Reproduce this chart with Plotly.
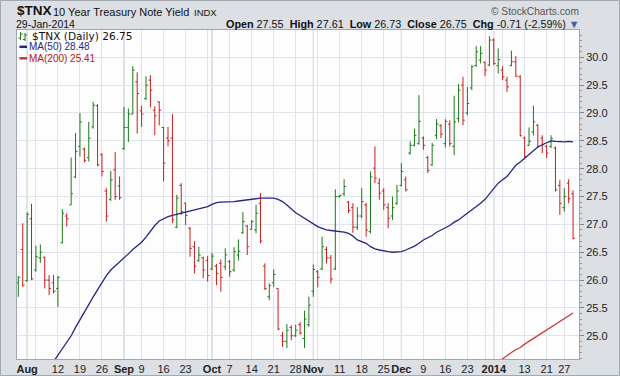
import pandas as pd
import plotly.graph_objects as go

# ---------------- data ----------------
holidays = ['2013-09-02', '2013-11-28', '2013-12-25', '2014-01-01', '2014-01-20']
dates = [d.strftime('%Y-%m-%d') for d in
         pd.bdate_range('2013-07-30', '2014-01-29', freq='C', holidays=holidays)]

opens = [25.95, 26.55, 25.99, 27.10, 26.18, 26.40, 26.41, 26.00, 25.95, 25.85,
         26.67, 27.15, 27.35, 27.85, 28.40, 28.35, 28.20, 28.75, 29.13, 28.25,
         27.60, 27.45, 27.98, 27.69, 28.36, 28.74, 28.98, 29.56, 29.04, 29.26,
         29.59, 29.05, 29.20, 28.74, 28.55, 28.55, 26.95, 27.70, 27.38, 26.93,
         26.60, 26.35, 26.40, 26.35, 26.20, 26.25, 26.30, 26.24, 26.33, 26.18,
         26.45, 26.85, 26.97, 26.91, 26.90, 27.38, 26.25, 25.70, 25.95, 25.85,
         25.00, 24.90, 25.15, 25.00, 25.20, 24.95, 25.20, 25.80, 26.15, 26.20,
         26.55, 26.40, 26.20, 27.50, 27.55, 27.40, 27.30, 26.95, 27.15, 27.35,
         26.87, 28.01, 27.74, 27.60, 27.30, 27.15, 27.38, 27.70, 27.80, 28.28,
         28.42, 28.45, 28.55, 28.20, 28.07, 28.60, 28.77, 28.45, 28.80, 28.40,
         28.90, 29.50, 29.00, 29.45, 29.85, 29.95, 29.91, 29.86, 30.31, 29.85,
         29.77, 29.59, 29.85, 29.92, 29.65, 28.55, 28.42, 28.66, 28.78, 28.55,
         28.40, 28.40, 28.37, 27.70, 27.30, 27.74, 27.55]

highs = [26.07, 27.02, 27.22, 27.37, 26.62, 26.64, 26.42, 26.09, 26.09, 26.07,
         27.27, 27.20, 28.20, 28.64, 29.00, 28.38, 28.84, 29.20, 29.16, 28.28,
         27.65, 27.96, 28.30, 27.86, 29.11, 29.08, 29.84, 29.73, 29.13, 29.66,
         29.68, 29.12, 29.21, 28.75, 28.75, 28.98, 27.53, 27.74, 27.39, 26.95,
         26.70, 26.60, 26.42, 26.43, 26.49, 26.29, 26.37, 26.57, 26.36, 26.59,
         26.73, 27.22, 26.99, 27.08, 27.35, 27.56, 26.30, 25.94, 26.19, 25.85,
         25.07, 25.21, 25.19, 25.20, 25.25, 25.45, 25.70, 26.28, 26.18, 26.78,
         26.60, 26.45, 27.63, 27.53, 27.81, 27.42, 27.38, 27.31, 27.65, 27.39,
         27.95, 28.40, 27.83, 27.65, 27.38, 27.50, 27.71, 28.10, 27.86, 28.49,
         28.72, 29.32, 28.58, 28.23, 28.46, 28.89, 28.80, 28.89, 28.87, 29.31,
         29.52, 29.65, 29.47, 29.86, 30.20, 30.20, 29.92, 30.38, 30.34, 30.16,
         29.84, 29.65, 30.12, 30.02, 29.68, 28.58, 28.74, 29.13, 28.80, 28.60,
         28.43, 28.60, 28.40, 27.80, 27.65, 27.81, 27.61]

lows = [25.70, 25.88, 25.97, 26.00, 26.15, 26.31, 25.85, 25.73, 25.76, 25.52,
        26.66, 26.96, 27.35, 27.83, 28.22, 28.11, 28.13, 28.72, 28.04, 27.86,
        27.05, 27.42, 27.44, 27.44, 28.34, 28.48, 28.98, 28.63, 28.75, 29.23,
        29.10, 28.60, 28.78, 27.77, 28.40, 27.02, 26.93, 27.17, 26.99, 26.42,
        26.12, 26.33, 26.03, 25.97, 26.18, 25.91, 25.79, 26.18, 26.06, 26.15,
        26.35, 26.83, 26.45, 26.91, 26.84, 26.66, 25.82, 25.64, 25.88, 25.10,
        24.80, 24.78, 24.92, 24.98, 25.02, 24.78, 25.16, 25.70, 25.87, 26.18,
        26.30, 25.94, 26.18, 27.48, 27.51, 27.20, 26.85, 26.90, 27.11, 26.78,
        26.84, 27.74, 27.44, 27.26, 26.93, 27.08, 27.35, 27.68, 27.59, 28.25,
        28.40, 28.43, 28.34, 27.92, 28.05, 28.53, 28.55, 28.38, 28.40, 28.24,
        28.83, 28.78, 28.96, 29.41, 29.83, 29.89, 29.66, 29.84, 29.86, 29.71,
        29.59, 29.38, 29.84, 29.65, 28.58, 28.19, 28.41, 28.60, 28.37, 28.28,
        28.19, 28.37, 27.59, 27.17, 27.23, 27.38, 26.73]

closes = [26.05, 25.91, 27.18, 26.02, 26.42, 26.50, 26.00, 25.85, 25.80, 26.05,
          27.20, 27.10, 27.55, 28.31, 28.84, 28.15, 28.55, 29.14, 28.07, 27.95,
          27.15, 27.80, 27.50, 27.48, 28.74, 28.98, 29.77, 29.35, 28.98, 29.50,
          29.41, 28.95, 29.05, 28.10, 28.50, 27.08, 27.47, 27.23, 27.16, 26.57,
          26.25, 26.45, 26.18, 26.08, 26.43, 26.12, 26.05, 26.45, 26.15, 26.51,
          26.52, 27.05, 26.60, 27.05, 27.20, 26.70, 25.85, 25.90, 26.10, 25.12,
          24.90, 25.10, 25.00, 25.10, 25.05, 25.30, 25.55, 26.19, 26.05, 26.60,
          26.40, 26.02, 27.50, 27.52, 27.68, 27.25, 26.95, 27.15, 27.41, 26.90,
          27.85, 27.83, 27.56, 27.35, 27.11, 27.30, 27.60, 27.95, 27.62, 28.42,
          28.60, 28.85, 28.42, 27.97, 28.42, 28.80, 28.62, 28.85, 28.45, 28.84,
          29.41, 28.87, 29.17, 29.83, 30.10, 30.07, 29.77, 30.31, 29.89, 29.96,
          29.65, 29.47, 29.92, 29.66, 28.59, 28.22, 28.49, 28.84, 28.40, 28.43,
          28.28, 28.54, 27.62, 27.38, 27.50, 27.46, 26.75]

ma50 = [None] * 7 + [
    24.42, 24.54, 24.66, 24.77, 24.88, 25.00, 25.15, 25.28, 25.42, 25.56,
    25.70, 25.83, 25.96, 26.08, 26.18, 26.25, 26.32, 26.40, 26.47, 26.55,
    26.62, 26.68, 26.77, 26.88, 26.98, 27.06, 27.10, 27.14, 27.16, 27.18,
    27.20, 27.22, 27.24, 27.26, 27.27, 27.29, 27.32, 27.36, 27.39, 27.40,
    27.40, 27.40, 27.41, 27.42, 27.43, 27.44, 27.46, 27.47, 27.47, 27.47,
    27.47, 27.47, 27.45, 27.41, 27.35, 27.28, 27.21, 27.16, 27.11, 27.05,
    27.00, 26.96, 26.93, 26.90, 26.89, 26.88, 26.88, 26.86, 26.84, 26.79,
    26.72, 26.69, 26.66, 26.60, 26.56, 26.54, 26.52, 26.51, 26.50, 26.50,
    26.51, 26.54, 26.57, 26.61, 26.66, 26.72, 26.76, 26.80, 26.86, 26.90,
    26.93, 26.98, 27.04, 27.08, 27.14, 27.20, 27.25, 27.31, 27.38, 27.45,
    27.55, 27.64, 27.74, 27.80, 27.86, 27.96, 28.06, 28.12, 28.19, 28.25,
    28.32, 28.39, 28.43, 28.47, 28.50, 28.49, 28.48, 28.48, 28.49, 28.48]

ma200 = [None] * 108 + [
    24.47, 24.53, 24.59, 24.64, 24.70, 24.75, 24.79, 24.85, 24.90, 24.95,
    25.01, 25.06, 25.11, 25.16, 25.20, 25.25, 25.31, 25.36, 25.41]

week_ticks = ['2013-08-01', '2013-08-05', '2013-08-12', '2013-08-19', '2013-08-26',
              '2013-09-03', '2013-09-09', '2013-09-16', '2013-09-23', '2013-09-30',
              '2013-10-01', '2013-10-07', '2013-10-14', '2013-10-21', '2013-10-28',
              '2013-11-01', '2013-11-04', '2013-11-11', '2013-11-18', '2013-11-25',
              '2013-12-02', '2013-12-09', '2013-12-16', '2013-12-23', '2013-12-30',
              '2014-01-02', '2014-01-06', '2014-01-13', '2014-01-21', '2014-01-27']
week_labels = ['<b>Aug</b>', '', '12', '19', '26',
               '<b>Sep</b>', '9', '16', '23', '',
               '<b>Oct</b>', '7', '14', '21', '28',
               '<b>Nov</b>', '', '11', '18', '25',
               '<b>Dec</b>', '9', '16', '23', '',
               '<b>2014</b>', '', '13', '21', '27']
month_starts = ['2013-08-01', '2013-09-03', '2013-10-01', '2013-11-01', '2013-12-02', '2014-01-02']
y_ticks = [25.0, 25.5, 26.0, 26.5, 27.0, 27.5, 28.0, 28.5, 29.0, 29.5, 30.0]

# ---------------- style ----------------
GREEN = '#1c7a1c'
RED = '#c81e1e'
NAVY = '#262680'
MARED = '#c83a3a'
FONT = 'Liberation Sans'

W, H = 620, 376
ML, MR, MT, MB = 17, 41, 30, 17
PW, PH = W - ML - MR, H - MT - MB


def px(x):
    return (x - ML) / PW


def py(y):
    return (H - MB - y) / PH


fig = go.Figure()
fig.add_trace(go.Ohlc(
    x=dates, open=opens, high=highs, low=lows, close=closes,
    increasing=dict(line=dict(color=GREEN, width=1)),
    decreasing=dict(line=dict(color=RED, width=1)),
    tickwidth=0.42, hoverinfo='skip', showlegend=False))
fig.add_trace(go.Scatter(x=dates, y=ma50, mode='lines',
                         line=dict(color=NAVY, width=1.3), hoverinfo='skip', showlegend=False))
fig.add_trace(go.Scatter(x=dates, y=ma200, mode='lines',
                         line=dict(color=MARED, width=1.3), hoverinfo='skip', showlegend=False))

shapes = []
for d in month_starts:
    shapes.append(dict(type='line', xref='x', yref='paper', x0=d, x1=d, y0=0, y1=1,
                       line=dict(color='#b3bac6', width=1), layer='between'))
# outer frame
shapes.append(dict(type='rect', xref='paper', yref='paper',
                   x0=px(0.5), x1=px(W - 0.5), y0=py(H - 0.5), y1=py(0.5),
                   line=dict(color='#a3a9b1', width=1), layer='below'))
# legend glyphs
shapes += [
    dict(type='line', xref='paper', yref='paper', x0=px(19.5), x1=px(27), y0=py(46.8), y1=py(46.8),
         line=dict(color=NAVY, width=2.5)),
    dict(type='line', xref='paper', yref='paper', x0=px(19.5), x1=px(27), y0=py(58.3), y1=py(58.3),
         line=dict(color=MARED, width=2.5)),
    dict(type='line', xref='paper', yref='paper', x0=px(20.5), x1=px(20.5), y0=py(40), y1=py(32),
         line=dict(color=GREEN, width=1)),
    dict(type='line', xref='paper', yref='paper', x0=px(18.5), x1=px(20.5), y0=py(38), y1=py(38),
         line=dict(color=GREEN, width=1)),
    dict(type='line', xref='paper', yref='paper', x0=px(20.5), x1=px(22.5), y0=py(34), y1=py(34),
         line=dict(color=GREEN, width=1)),
    dict(type='line', xref='paper', yref='paper', x0=px(25), x1=px(25), y0=py(41), y1=py(33),
         line=dict(color=GREEN, width=1)),
    dict(type='line', xref='paper', yref='paper', x0=px(23), x1=px(25), y0=py(39.5), y1=py(39.5),
         line=dict(color=GREEN, width=1)),
    dict(type='line', xref='paper', yref='paper', x0=px(25), x1=px(27), y0=py(35), y1=py(35),
         line=dict(color=GREEN, width=1)),
]

chg = closes[-1] - closes[-2]
pct = chg / closes[-2] * 100
header = (f"<b>Open</b> {opens[-1]:.2f}  <b>High</b> {highs[-1]:.2f}  <b>Low</b> {lows[-1]:.2f}  "
          f"<b>Close</b> {closes[-1]:.2f}  <b>Chg</b> {chg:.2f} ({pct:.2f}%) "
          f"<span style='color:#3a62a8'>▼</span>")

ann = [
    dict(text='<b>$TNX</b>', x=px(15.5), y=py(11), font=dict(size=13.5, color='#111', family=FONT)),
    dict(text='10 Year Treasury Note Yield', x=px(51.5), y=py(11.5), font=dict(size=11, color='#111', family=FONT)),
    dict(text='INDX', x=px(192.5), y=py(12), font=dict(size=9.5, color='#111', family=FONT)),
    dict(text='29-Jan-2014', x=px(15), y=py(24.5), font=dict(size=10.5, color='#111', family=FONT)),
    dict(text=header, x=px(580), y=py(24.5), xanchor='right',
         font=dict(size=10.8, color='#111', family=FONT)),
    dict(text='© StockCharts.com', x=px(580), y=py(11.5), xanchor='right',
         font=dict(size=10.2, color='#555', family=FONT)),
    dict(text=f'$TNX (Daily) {closes[-1]:.2f}', x=px(31), y=py(36), font=dict(size=10.6, color='#111', family='DejaVu Sans')),
    dict(text=f'MA(50) {ma50[-1]:.2f}', x=px(28), y=py(47), font=dict(size=10, color=NAVY, family=FONT)),
    dict(text=f'MA(200) {ma200[-1]:.2f}', x=px(28), y=py(58.5), font=dict(size=10, color='#b22222', family=FONT)),
]
for a in ann:
    a.setdefault('xanchor', 'left')
    a.update(xref='paper', yref='paper', yanchor='middle', showarrow=False, borderpad=0)

fig.update_layout(
    width=W, height=H,
    margin=dict(l=ML, r=MR, t=MT, b=MB, pad=0, autoexpand=False),
    paper_bgcolor='#dcdfe4',
    plot_bgcolor='#fdfdfe',
    showlegend=False,
    shapes=shapes,
    annotations=ann,
    xaxis=dict(type='category', range=[-0.3, 127.35], rangeslider=dict(visible=False),
               tickmode='array', tickvals=week_ticks, ticktext=week_labels, tickangle=0,
               automargin=False,
               showgrid=True, gridcolor='#dfe3ea', gridwidth=1,
               showline=True, linecolor='#9da6b2', mirror=True, ticks='',
               tickfont=dict(family=FONT, size=11, color='#222'), zeroline=False),
    yaxis=dict(side='right', range=[24.583, 30.49], tickmode='array', tickvals=y_ticks,
               automargin=False,
               tickformat='.1f', showgrid=True, gridcolor='#dfe3ea', gridwidth=1,
               showline=True, linecolor='#9da6b2', mirror=True,
               ticks='outside', ticklen=4, tickcolor='#7d8590',
               minor=dict(dtick=0.1, ticks='outside', ticklen=2, tickcolor='#8d949e', showgrid=False),
               tickfont=dict(family=FONT, size=11, color='#222'), zeroline=False),
)

fig.write_html('out.html', config={'displayModeBar': False},
               post_script="document.body.style.margin='0';document.body.style.overflow='hidden';")
